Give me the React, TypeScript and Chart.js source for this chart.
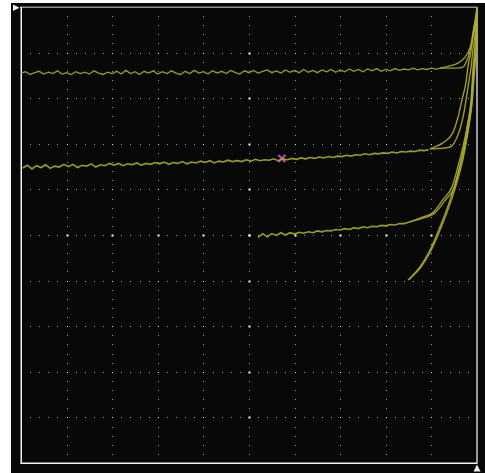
import React, { useEffect, useRef } from "react";
import { Chart, registerables } from "chart.js";

Chart.register(...registerables);

// Screen divisions (10 x 10)
const xDivisions = [0, 1, 2, 3, 4, 5, 6, 7, 8, 9, 10];
const yDivisions = [-5, -4, -3, -2, -1, 0, 1, 2, 3, 4, 5];
const subdivisionsPerDiv = 5;
const sampleStep = 0.1;

// Trace 1 (top)
const trace1Start = 0;
const trace1Flat = [
  3.55, 3.58, 3.52, 3.56, 3.59, 3.53, 3.57, 3.54, 3.6, 3.53,
  3.56, 3.52, 3.58, 3.54, 3.57, 3.53, 3.6, 3.55, 3.52, 3.57,
  3.54, 3.59, 3.53, 3.61, 3.54, 3.58, 3.52, 3.59, 3.55, 3.6,
  3.53, 3.58, 3.54, 3.6, 3.55, 3.52, 3.59, 3.54, 3.61, 3.55,
  3.58, 3.53, 3.6, 3.55, 3.59, 3.54, 3.61, 3.56, 3.53, 3.6,
  3.56, 3.61, 3.55, 3.59, 3.62, 3.56, 3.6, 3.55, 3.62, 3.57,
  3.61, 3.56, 3.63, 3.57, 3.61, 3.56, 3.62, 3.58, 3.63, 3.57,
  3.62, 3.58, 3.64, 3.59, 3.63, 3.58, 3.64, 3.6, 3.65, 3.59,
  3.63, 3.6, 3.65, 3.61, 3.64, 3.62, 3.66, 3.62, 3.65, 3.63,
  3.66, 3.64, 3.66,
];
const trace1RiseAX = [9.19, 9.41, 9.58, 9.74, 9.85, 9.91, 9.96, 10.0];
const trace1RiseAY = [3.66, 3.71, 3.77, 3.9, 4.12, 4.39, 4.67, 4.98];
const trace1RiseBX = [9.19, 9.52, 9.69, 9.8, 9.87, 9.93, 9.98, 10.0];
const trace1RiseBY = [3.66, 3.66, 3.68, 3.88, 4.12, 4.43, 4.71, 4.93];

// Trace 2
const trace2Start = 0.04;
const trace2Flat = [
  1.47, 1.53, 1.45, 1.52, 1.48, 1.54, 1.46, 1.51, 1.49, 1.55,
  1.5, 1.55, 1.48, 1.53, 1.51, 1.56, 1.49, 1.54, 1.52, 1.57,
  1.53, 1.57, 1.52, 1.56, 1.54, 1.58, 1.53, 1.57, 1.55, 1.59,
  1.56, 1.6, 1.55, 1.59, 1.57, 1.61, 1.56, 1.6, 1.58, 1.62,
  1.59, 1.63, 1.58, 1.62, 1.6, 1.64, 1.61, 1.63, 1.61, 1.65,
  1.62, 1.66, 1.63, 1.65, 1.64, 1.67, 1.63, 1.67, 1.65, 1.68,
  1.66, 1.69, 1.67, 1.7, 1.68, 1.71, 1.69, 1.72, 1.7, 1.73,
  1.72, 1.75, 1.73, 1.76, 1.75, 1.78, 1.76, 1.79, 1.78, 1.8,
  1.79, 1.82, 1.8, 1.83, 1.82, 1.84, 1.83, 1.86, 1.85, 1.87,
];
const trace2RiseAX = [8.97, 9.25, 9.47, 9.58, 9.67, 9.76, 9.8, 9.87, 9.91, 9.96, 10.0];
const trace2RiseAY = [1.89, 2.02, 2.24, 2.57, 2.96, 3.36, 3.68, 4.06, 4.43, 4.71, 4.98];
const trace2RiseBX = [8.97, 9.41, 9.58, 9.69, 9.76, 9.82, 9.87, 9.91, 9.96, 9.98, 10.0];
const trace2RiseBY = [1.89, 1.93, 2.19, 2.57, 2.96, 3.36, 3.68, 4.06, 4.43, 4.71, 4.93];

// Trace 3
const trace3Start = 5.2;
const trace3Flat = [
  -0.05, 0.03, -0.04, 0.03, -0.01, 0.05, 0.0, 0.05,
  0.02, 0.06, 0.04, 0.07, 0.05, 0.09, 0.07, 0.1, 0.09, 0.12,
  0.11, 0.14, 0.12, 0.16, 0.14, 0.18, 0.16, 0.19, 0.18, 0.21,
  0.2, 0.23, 0.22, 0.25, 0.25, 0.28, 0.31,
];
const trace3RiseAX = [8.6, 8.75, 9.04, 9.25, 9.45, 9.58, 9.69, 9.8, 9.87, 9.91, 9.96, 9.98, 10.0];
const trace3RiseAY = [0.31, 0.37, 0.5, 0.77, 1.05, 1.49, 1.93, 2.46, 2.96, 3.62, 4.17, 4.61, 4.93];
const trace3RiseBX = [8.6, 8.78, 9.08, 9.3, 9.5, 9.62, 9.73, 9.83, 9.89, 9.93, 9.97, 9.99, 10.0];
const trace3RiseBY = [0.31, 0.36, 0.49, 0.76, 1.04, 1.48, 1.92, 2.45, 2.95, 3.6, 4.15, 4.6, 4.93];

// Trace 4 (lowest)
const trace4AX = [8.49, 8.75, 8.97, 9.19, 9.41, 9.56, 9.67, 9.74, 9.8, 9.87, 9.91, 9.96, 9.98, 10.0];
const trace4AY = [-0.99, -0.7, -0.33, 0.18, 0.77, 1.27, 1.71, 2.08, 2.46, 2.89, 3.4, 3.95, 4.5, 4.93];
const trace4BX = [8.51, 8.78, 9.0, 9.22, 9.44, 9.59, 9.7, 9.77, 9.83, 9.89, 9.93, 9.97, 9.99, 10.0];
const trace4BY = [-0.98, -0.69, -0.32, 0.18, 0.77, 1.26, 1.7, 2.07, 2.45, 2.88, 3.39, 3.94, 4.49, 4.93];

// Cursor marker
const markerX = [5.72];
const markerY = [1.68];

const TRACE_COLOR = "rgba(172, 172, 44, 0.9)";

function sampled(start: number, ys: number[]) {
  return ys.map((y, i) => ({ x: +(start + i * sampleStep).toFixed(3), y }));
}
function paired(xs: number[], ys: number[]) {
  return xs.map((x, i) => ({ x, y: ys[i] }));
}
function flatSet(data: { x: number; y: number }[], width: number) {
  return {
    data,
    showLine: true,
    borderColor: TRACE_COLOR,
    borderWidth: width,
    pointRadius: 0,
    tension: 0,
    clip: 4,
  };
}
function riseSet(data: { x: number; y: number }[]) {
  return {
    data,
    showLine: true,
    borderColor: TRACE_COLOR,
    borderWidth: 1.4,
    pointRadius: 0,
    cubicInterpolationMode: "monotone" as const,
    clip: 4,
  };
}

const scopePlugin = {
  id: "scope",
  beforeDraw(chart: any) {
    const { ctx, width, height } = chart;
    ctx.save();
    ctx.fillStyle = "#ffffff";
    ctx.fillRect(0, 0, width, height);
    ctx.fillStyle = "#080808";
    ctx.fillRect(11, 3, width - 11, height - 3);
    ctx.restore();
  },
  beforeDatasetsDraw(chart: any) {
    const { ctx, chartArea } = chart;
    const xs = chart.scales.x;
    const ys = chart.scales.y;
    const xMin = xDivisions[0];
    const xMax = xDivisions[xDivisions.length - 1];
    const yMin = yDivisions[0];
    const yMax = yDivisions[yDivisions.length - 1];
    const sub = 1 / subdivisionsPerDiv;
    ctx.save();
    xDivisions.slice(1, -1).forEach((xv) => {
      const px = Math.round(xs.getPixelForValue(xv));
      const nSub = (yMax - yMin) * subdivisionsPerDiv;
      for (let k = 1; k < nSub; k++) {
        const v = yMin + k * sub;
        const py = Math.round(ys.getPixelForValue(v));
        const major = Math.abs(v - Math.round(v)) < 1e-6;
        ctx.fillStyle = major ? "#e0e0e0" : "#9a9a9a";
        ctx.fillRect(px, py, 1, 1);
      }
    });
    yDivisions.slice(1, -1).forEach((yv) => {
      const py = Math.round(ys.getPixelForValue(yv));
      const nSub = (xMax - xMin) * subdivisionsPerDiv;
      for (let k = 1; k < nSub; k++) {
        const v = xMin + k * sub;
        const px = Math.round(xs.getPixelForValue(v));
        const major = Math.abs(v - Math.round(v)) < 1e-6;
        ctx.fillStyle = major ? "#e0e0e0" : "#9a9a9a";
        ctx.fillRect(px, py, 1, 1);
      }
    });
    const cx = Math.round(xs.getPixelForValue(5));
    const cy = Math.round(ys.getPixelForValue(0));
    ctx.fillStyle = "#ffffff";
    yDivisions.slice(1, -1).forEach((yv) => {
      const py = Math.round(ys.getPixelForValue(yv));
      ctx.fillRect(cx - 0.5, py - 0.5, 2, 2);
    });
    xDivisions.slice(1, -1).forEach((xv) => {
      const px = Math.round(xs.getPixelForValue(xv));
      ctx.fillRect(px - 0.5, cy - 0.5, 2, 2);
    });

    const { left, right, top, bottom } = chartArea;
    ctx.fillStyle = "#8e8e8e";
    ctx.fillRect(left - 1, top - 0.5, right - left + 1, 1.5);
    ctx.fillStyle = "#9a9a9a";
    ctx.fillRect(right - 1, top, 2, bottom - top);
    ctx.fillStyle = "#f2f2f2";
    ctx.fillRect(left - 0.5, top, 1.5, bottom - top + 1);
    ctx.fillRect(left - 0.5, bottom - 0.5, right - left + 1, 1.5);

    ctx.fillStyle = "#f0f0f0";
    ctx.beginPath();
    ctx.moveTo(13, 4.5);
    ctx.lineTo(13, 11);
    ctx.lineTo(19.5, 7.75);
    ctx.closePath();
    ctx.fill();
    ctx.beginPath();
    ctx.moveTo(473.5, 471.5);
    ctx.lineTo(480.5, 471.5);
    ctx.lineTo(477, 464.5);
    ctx.closePath();
    ctx.fill();
    ctx.restore();
  },
};

export default function App() {
  const ref = useRef<HTMLCanvasElement | null>(null);
  useEffect(() => {
    if (!ref.current) return;
    const chart = new Chart(ref.current, {
      type: "scatter",
      data: {
        datasets: [
          flatSet(sampled(trace1Start, trace1Flat), 1.3),
          riseSet(paired(trace1RiseAX, trace1RiseAY)),
          riseSet(paired(trace1RiseBX, trace1RiseBY)),
          flatSet(sampled(trace2Start, trace2Flat), 1.6),
          riseSet(paired(trace2RiseAX, trace2RiseAY)),
          riseSet(paired(trace2RiseBX, trace2RiseBY)),
          flatSet(sampled(trace3Start, trace3Flat), 1.6),
          riseSet(paired(trace3RiseAX, trace3RiseAY)),
          riseSet(paired(trace3RiseBX, trace3RiseBY)),
          riseSet(paired(trace4AX, trace4AY)),
          riseSet(paired(trace4BX, trace4BY)),
          {
            data: paired(markerX, markerY),
            showLine: false,
            pointStyle: "crossRot",
            pointRadius: 5,
            pointBorderColor: "#c050b8",
            pointBorderWidth: 2,
          } as any,
        ],
      },
      options: {
        responsive: false,
        animation: false,
        events: [],
        layout: { padding: { left: 21, right: 8, top: 7, bottom: 10 } },
        plugins: { legend: { display: false }, tooltip: { enabled: false } },
        scales: {
          x: { type: "linear", min: xDivisions[0], max: xDivisions[xDivisions.length - 1], display: false },
          y: { type: "linear", min: yDivisions[0], max: yDivisions[yDivisions.length - 1], display: false },
        },
      },
      plugins: [scopePlugin],
    });
    return () => chart.destroy();
  }, []);
  return (
    <div style={{ position: "absolute", left: 0, top: 0, width: 485, height: 473 }}>
      <canvas ref={ref} width={485} height={473} style={{ display: "block" }} />
    </div>
  );
}
